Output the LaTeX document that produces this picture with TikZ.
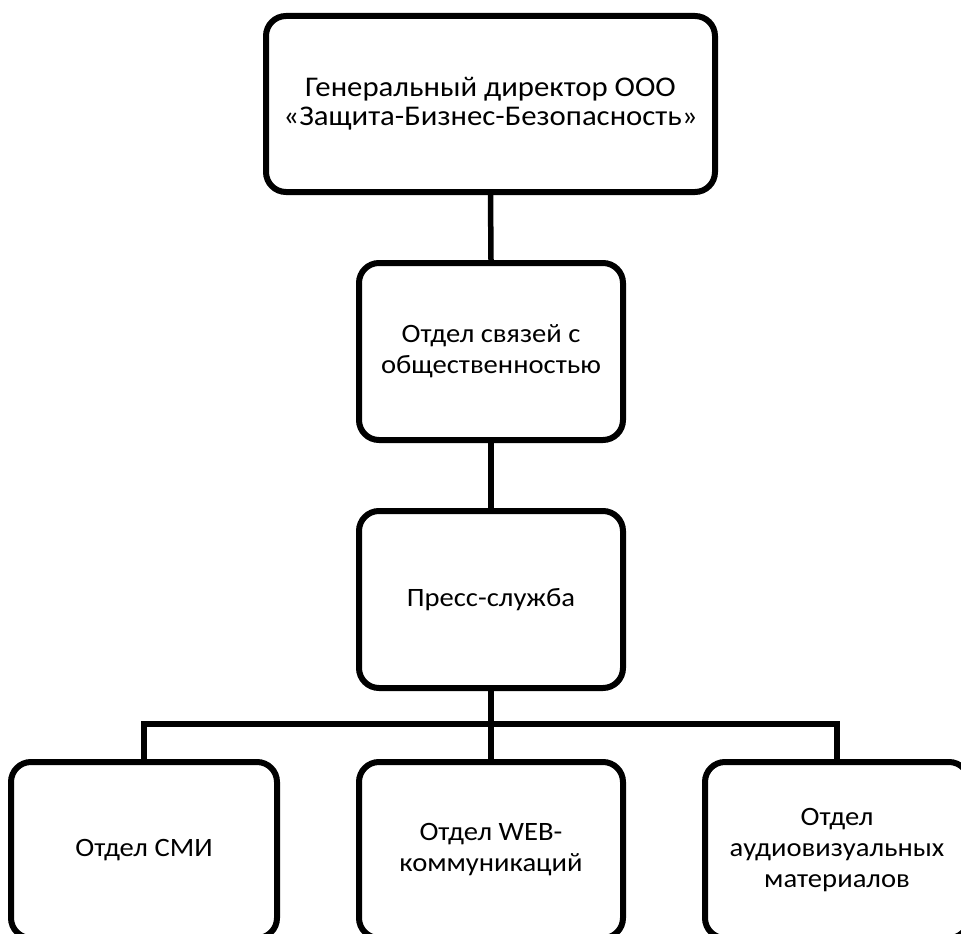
\documentclass[tikz,border=0pt]{standalone}
\usepackage{fontspec}
\setmainfont{Carlito}[FakeStretch=1.08]
\begin{document}
\begin{tikzpicture}[x=1pt,y=-1pt,
  box/.style={draw=black, line width=6pt, rounded corners=20pt, fill=white,
    minimum width=264pt, minimum height=177pt, align=center, inner sep=0pt,
    font=\fontsize{26.5}{31}\selectfont},
  conn/.style={draw=black, line width=5.5pt}]
\useasboundingbox (0,0) rectangle (961,934);
\clip (0,0) rectangle (961,934);
\node[box, minimum width=449pt, minimum height=176pt, font=\fontsize{28.5}{29}\selectfont] (gd) at (490.5,104) {Генеральный директор ООО\\«Защита-Бизнес-Безопасность»};
\node[box] (pr) at (491,351.5) {Отдел связей с\\общественностью};
\node[box] (ps) at (491,599.5) {Пресс-служба};
\node[box, minimum width=266pt, minimum height=176pt] (smi) at (144,850) {Отдел СМИ};
\node[box, minimum height=176pt] (web) at (491,850) {Отдел WEB-\\коммуникаций};
\node[box, minimum height=176pt] (av) at (837,850) {Отдел\\аудиовизуальных\\материалов};
\coordinate (bus) at (491,724);
\draw[conn] (gd.south) -- (pr.north);
\draw[conn] (pr.south) -- (ps.north);
\draw[conn] (ps.south) -- (web.north);
\draw[conn] (smi.north) -- (smi.north |- bus) -- (av.north |- bus) -- (av.north);
\end{tikzpicture}
\end{document}
